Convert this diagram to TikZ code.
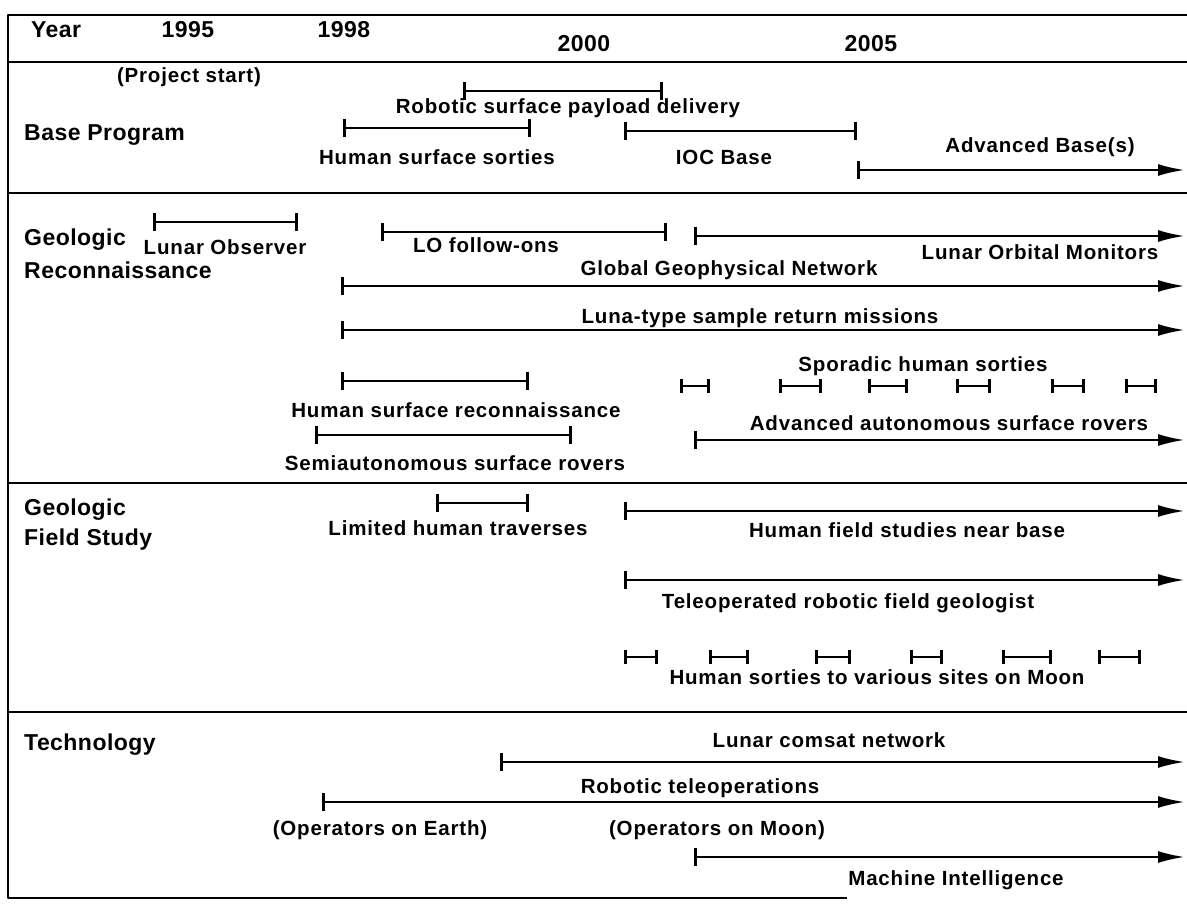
\documentclass[tikz,border=0pt]{standalone}
\usepackage{fontspec}
\setmainfont{Liberation Sans}[LetterSpace=4]
\newfontfamily\ttlfont{Liberation Sans}[LetterSpace=2]
\usetikzlibrary{arrows.meta}
\tikzset{
  lbl/.style={draw=none,inner sep=0pt,font=\bfseries\fontsize{20.5bp}{24bp}\selectfont},
  ttl/.style={draw=none,inner sep=0pt,anchor=west,font=\ttlfont\bfseries\fontsize{23bp}{26bp}\selectfont},
  spanbar/.style={black,line width=2.6bp,{Bar[width=18bp]}-{Bar[width=18bp]}},
  runbar/.style={black,line width=2.6bp,{Bar[width=18bp]}-{Latex[length=27bp,width=12bp]}},
  shortbar/.style={black,line width=2.6bp,{Bar[width=14bp]}-{Bar[width=14bp]}},
  rule/.style={black,line width=2.8bp}
}
\begin{document}
\begin{tikzpicture}[>=latex,line join=bevel,]
\useasboundingbox (0bp,0bp) rectangle (1187bp,904bp);
%% frame
\draw [rule] (1187bp,889bp) -- (8bp,889bp) -- (8bp,6bp) -- (847bp,6bp);
\draw [rule] (8bp,842bp) -- (1187bp,842bp);
\draw [rule] (8bp,711bp) -- (1187bp,711bp);
\draw [rule] (8bp,421bp) -- (1187bp,421bp);
\draw [rule] (8bp,192bp) -- (1187bp,192bp);
%% years
\node (node_0) at (56.0bp,874.0bp) [ttl,anchor=center] {Year};
  \node (node_1) at (188.0bp,874.0bp) [ttl,anchor=center] {1995};
  \node (node_2) at (344.0bp,874.0bp) [ttl,anchor=center] {1998};
  \node (node_3) at (584.0bp,860.0bp) [ttl,anchor=center] {2000};
  \node (node_4) at (871.0bp,860.0bp) [ttl,anchor=center] {2005};
%% base program
\node (node_5) at (24.0bp,769.0bp) [ttl] {Base Program};
  \node (node_6) at (189.0bp,827.0bp) [lbl] {(Project start)};
  \coordinate (bar_0a) at (463.0bp,813.0bp);
  \coordinate (bar_0b) at (663.0bp,813.0bp);
  \draw [spanbar] (bar_0a) -- (bar_0b);
  \node (node_7) at (568.0bp,796.0bp) [lbl] {Robotic surface payload delivery};
  \coordinate (bar_1a) at (343.0bp,776.0bp);
  \coordinate (bar_1b) at (531.0bp,776.0bp);
  \draw [spanbar] (bar_1a) -- (bar_1b);
  \node (node_8) at (437.0bp,747.0bp) [lbl] {Human surface sorties};
  \coordinate (bar_2a) at (624.0bp,773.0bp);
  \coordinate (bar_2b) at (857.0bp,773.0bp);
  \draw [spanbar] (bar_2a) -- (bar_2b);
  \node (node_9) at (724.0bp,747.0bp) [lbl] {IOC Base};
  \coordinate (bar_3a) at (857.0bp,734.0bp);
  \coordinate (bar_3b) at (1185.0bp,734.0bp);
  \draw [runbar] (bar_3a) -- (bar_3b);
  \node (node_10) at (1040.0bp,757.0bp) [lbl] {Advanced Base(s)};
%% geologic reconnaissance
\node (node_11) at (24.0bp,664.0bp) [ttl] {Geologic};
  \node (node_12) at (24.0bp,634.0bp) [ttl] {Reconnaissance};
  \coordinate (bar_4a) at (153.0bp,682.0bp);
  \coordinate (bar_4b) at (298.0bp,682.0bp);
  \draw [spanbar] (bar_4a) -- (bar_4b);
  \node (node_13) at (225.0bp,657.0bp) [lbl] {Lunar Observer};
  \coordinate (bar_5a) at (381.0bp,672.0bp);
  \coordinate (bar_5b) at (667.0bp,672.0bp);
  \draw [spanbar] (bar_5a) -- (bar_5b);
  \node (node_14) at (486.0bp,659.0bp) [lbl] {LO follow-ons};
  \coordinate (bar_6a) at (694.0bp,668.0bp);
  \coordinate (bar_6b) at (1185.0bp,668.0bp);
  \draw [runbar] (bar_6a) -- (bar_6b);
  \node (node_15) at (1040.0bp,652.0bp) [lbl] {Lunar Orbital Monitors};
  \coordinate (bar_7a) at (341.0bp,618.0bp);
  \coordinate (bar_7b) at (1185.0bp,618.0bp);
  \draw [runbar] (bar_7a) -- (bar_7b);
  \node (node_16) at (729.0bp,634.0bp) [lbl] {Global Geophysical Network};
  \coordinate (bar_8a) at (341.0bp,574.0bp);
  \coordinate (bar_8b) at (1185.0bp,574.0bp);
  \draw [runbar] (bar_8a) -- (bar_8b);
  \node (node_17) at (760.0bp,586.0bp) [lbl] {Luna-type sample return missions};
  \node (node_18) at (923.0bp,538.0bp) [lbl] {Sporadic human sorties};
  \coordinate (s_0a) at (680.0bp,518.0bp); \coordinate (s_0b) at (710.0bp,518.0bp);
  \draw [shortbar] (s_0a) -- (s_0b);
  \coordinate (s_1a) at (779.0bp,518.0bp); \coordinate (s_1b) at (822.0bp,518.0bp);
  \draw [shortbar] (s_1a) -- (s_1b);
  \coordinate (s_2a) at (868.0bp,518.0bp); \coordinate (s_2b) at (908.0bp,518.0bp);
  \draw [shortbar] (s_2a) -- (s_2b);
  \coordinate (s_3a) at (956.0bp,518.0bp); \coordinate (s_3b) at (991.0bp,518.0bp);
  \draw [shortbar] (s_3a) -- (s_3b);
  \coordinate (s_4a) at (1051.0bp,518.0bp); \coordinate (s_4b) at (1085.0bp,518.0bp);
  \draw [shortbar] (s_4a) -- (s_4b);
  \coordinate (s_5a) at (1125.0bp,518.0bp); \coordinate (s_5b) at (1157.0bp,518.0bp);
  \draw [shortbar] (s_5a) -- (s_5b);
  \coordinate (bar_9a) at (341.0bp,523.0bp);
  \coordinate (bar_9b) at (529.0bp,523.0bp);
  \draw [spanbar] (bar_9a) -- (bar_9b);
  \node (node_19) at (456.0bp,494.0bp) [lbl] {Human surface reconnaissance};
  \node (node_20) at (949.0bp,481.0bp) [lbl] {Advanced autonomous surface rovers};
  \coordinate (bar_10a) at (694.0bp,464.0bp);
  \coordinate (bar_10b) at (1185.0bp,464.0bp);
  \draw [runbar] (bar_10a) -- (bar_10b);
  \coordinate (bar_11a) at (315.0bp,469.0bp);
  \coordinate (bar_11b) at (572.0bp,469.0bp);
  \draw [spanbar] (bar_11a) -- (bar_11b);
  \node (node_21) at (455.0bp,441.0bp) [lbl] {Semiautonomous surface rovers};
%% geologic field study
\node (node_22) at (24.0bp,394.0bp) [ttl] {Geologic};
  \node (node_23) at (24.0bp,364.0bp) [ttl] {Field Study};
  \coordinate (bar_12a) at (436.0bp,401.0bp);
  \coordinate (bar_12b) at (529.0bp,401.0bp);
  \draw [spanbar] (bar_12a) -- (bar_12b);
  \node (node_24) at (458.0bp,376.0bp) [lbl] {Limited human traverses};
  \coordinate (bar_13a) at (624.0bp,393.0bp);
  \coordinate (bar_13b) at (1185.0bp,393.0bp);
  \draw [runbar] (bar_13a) -- (bar_13b);
  \node (node_25) at (907.0bp,374.0bp) [lbl] {Human field studies near base};
  \coordinate (bar_14a) at (624.0bp,324.0bp);
  \coordinate (bar_14b) at (1185.0bp,324.0bp);
  \draw [runbar] (bar_14a) -- (bar_14b);
  \node (node_26) at (848.0bp,301.0bp) [lbl] {Teleoperated robotic field geologist};
  \coordinate (t_0a) at (624.0bp,247.0bp); \coordinate (t_0b) at (658.0bp,247.0bp);
  \draw [shortbar] (t_0a) -- (t_0b);
  \coordinate (t_1a) at (709.0bp,247.0bp); \coordinate (t_1b) at (749.0bp,247.0bp);
  \draw [shortbar] (t_1a) -- (t_1b);
  \coordinate (t_2a) at (815.0bp,247.0bp); \coordinate (t_2b) at (851.0bp,247.0bp);
  \draw [shortbar] (t_2a) -- (t_2b);
  \coordinate (t_3a) at (910.0bp,247.0bp); \coordinate (t_3b) at (943.0bp,247.0bp);
  \draw [shortbar] (t_3a) -- (t_3b);
  \coordinate (t_4a) at (1002.0bp,247.0bp); \coordinate (t_4b) at (1052.0bp,247.0bp);
  \draw [shortbar] (t_4a) -- (t_4b);
  \coordinate (t_5a) at (1098.0bp,247.0bp); \coordinate (t_5b) at (1141.0bp,247.0bp);
  \draw [shortbar] (t_5a) -- (t_5b);
  \node (node_27) at (877.0bp,227.0bp) [lbl] {Human sorties to various sites on Moon};
%% technology
\node (node_28) at (24.0bp,159.0bp) [ttl] {Technology};
  \coordinate (bar_15a) at (500.0bp,142.0bp);
  \coordinate (bar_15b) at (1185.0bp,142.0bp);
  \draw [runbar] (bar_15a) -- (bar_15b);
  \node (node_29) at (829.0bp,164.0bp) [lbl] {Lunar comsat network};
  \coordinate (bar_16a) at (322.0bp,102.0bp);
  \coordinate (bar_16b) at (1185.0bp,102.0bp);
  \draw [runbar] (bar_16a) -- (bar_16b);
  \node (node_30) at (700.0bp,116.0bp) [lbl] {Robotic teleoperations};
  \node (node_31) at (380.0bp,74.0bp) [lbl] {(Operators on Earth)};
  \node (node_32) at (717.0bp,74.0bp) [lbl] {(Operators on Moon)};
  \coordinate (bar_17a) at (694.0bp,47.0bp);
  \coordinate (bar_17b) at (1185.0bp,47.0bp);
  \draw [runbar] (bar_17a) -- (bar_17b);
  \node (node_33) at (956.0bp,24.0bp) [lbl] {Machine Intelligence};
%
\end{tikzpicture}
\end{document}
